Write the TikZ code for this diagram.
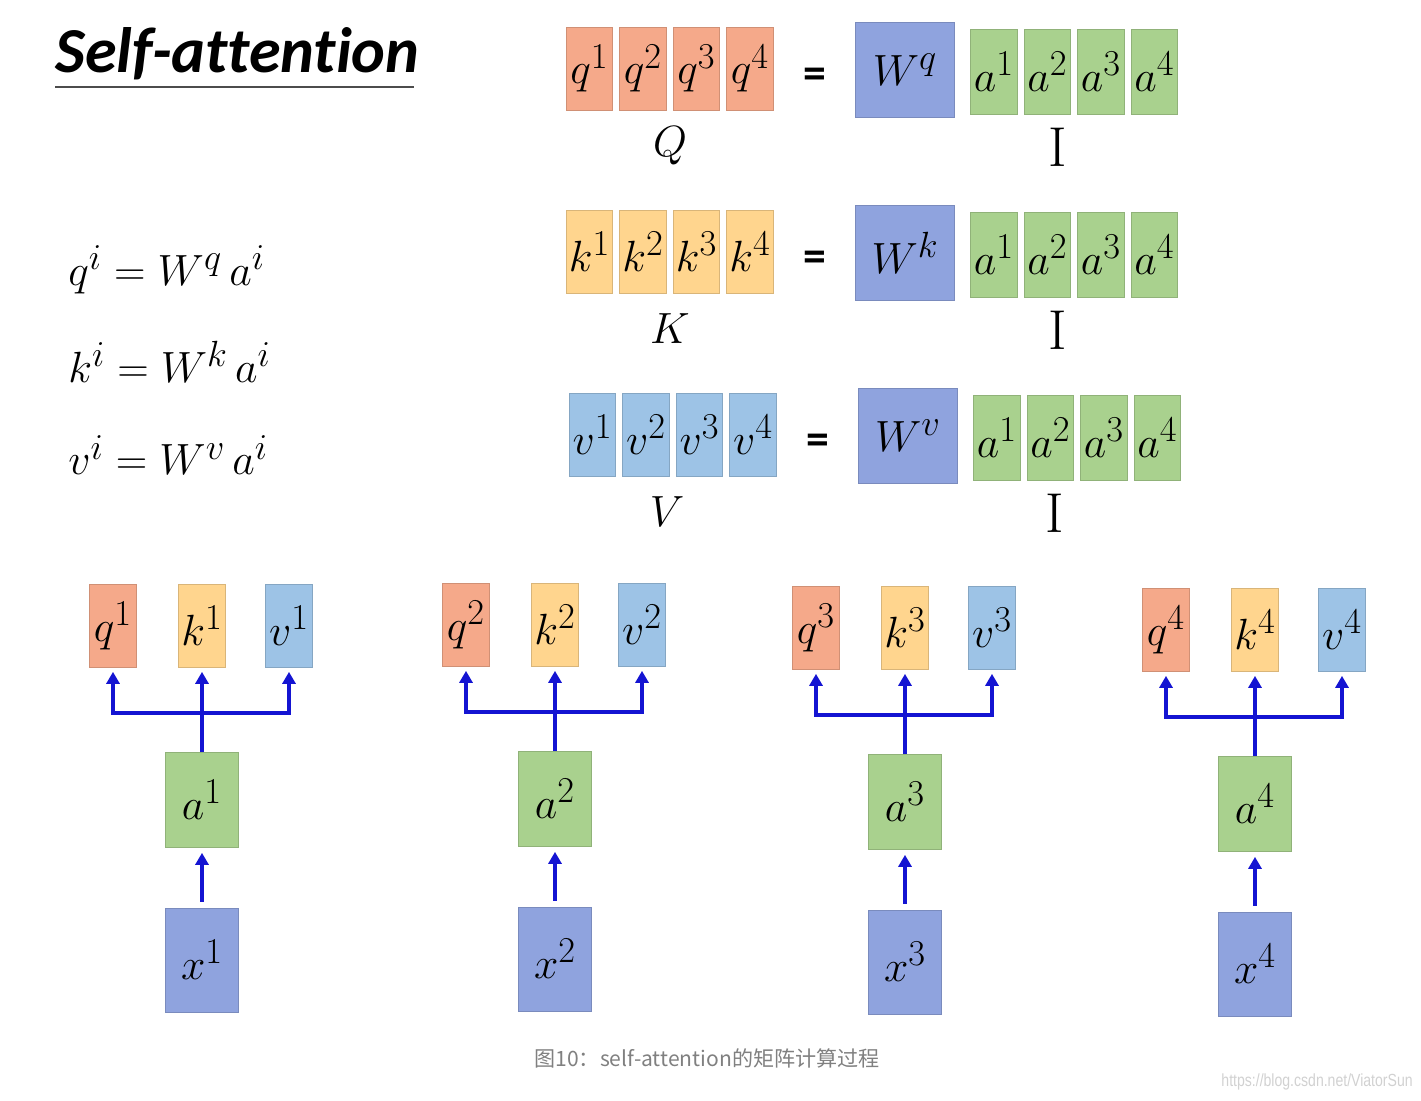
\documentclass[tikz,border=0pt]{standalone}
\usepackage{fontspec}
\newfontfamily\titlefont[Ligatures=NoCommon]{Carlito}
\newfontfamily\cjk{Noto Sans CJK SC}
\newfontfamily\markfont[FakeStretch=0.8]{Liberation Sans}
\usepackage{xcolor}
\definecolor{qRed}{HTML}{F5A98A}
\definecolor{kYellow}{HTML}{FFD58E}
\definecolor{vBlue}{HTML}{9DC3E6}
\definecolor{wBlue}{HTML}{8FA3DE}
\definecolor{aGreen}{HTML}{A9D18E}
\definecolor{flowBlue}{HTML}{1414D2}
\usetikzlibrary{arrows.meta}

\tikzset{
  cell/.style={fill=#1, draw=#1!85!black, line width=0.4pt, inner sep=0pt,
    font=\fontsize{30}{32}\selectfont},
  vec/.style={cell=#1, minimum width=0.93cm, minimum height=1.66cm},
  mat/.style={cell=wBlue, minimum width=1.98cm, minimum height=1.9cm},
  inp/.style={cell=#1, minimum width=1.46cm, minimum height=1.9cm},
  big/.style={font=\fontsize{32}{34}\selectfont, inner sep=0pt},
  eqs/.style={font=\fontsize{30}{32}\selectfont, anchor=west, inner sep=0pt},
  flow/.style={flowBlue, line width=2.3pt},
}

\begin{document}
\begin{tikzpicture}[x=0.02cm, y=-0.02cm, >={Triangle[length=0.24cm, width=0.26cm]}]
  \useasboundingbox (0,0) rectangle (1421,1100);
  % title
  \node[anchor=base west, inner sep=0pt,
    font=\titlefont\bfseries\itshape\fontsize{36.5}{40}\selectfont] (title) at (55,72) {Self-attention};
  \draw[black!70, line width=1.2pt] (55,87) -- (414,87);
  % per-element equations
  \node[eqs] (eqq) at (68,270) {$q^i = W^q\,a^i$};
  \node[eqs] (eqk) at (68,362) {$k^i = W^k\,a^i$};
  \node[eqs] (eqv) at (68,455) {$v^i = W^v\,a^i$};
  % matrix form: Q, K, V rows
  \foreach \m/\col/\M/\y/\dx in {q/qRed/Q/0/0, k/kYellow/K/183/0, v/vBlue/V/366/3}{
    \foreach \i in {1,...,4}
      \node[vec=\col] (\m\i) at ({536+53.5*\i+\dx},{68.5+\y}) {$\m^{\i}$};
    \node[big] (\M) at ({670-\dx},{146+\y}) {$\M$};
    \node[inner sep=0pt, font=\titlefont\bfseries\fontsize{26}{28}\selectfont] (eq\m)
      at ({815+\dx},{78+\y}) {=};
    \node[mat] (W\m) at ({905+\dx},{70+\y}) {$W^{\m}$};
    \foreach \i in {1,...,4}
      \node[vec=aGreen, minimum height=1.7cm] (a\m\i) at ({940.5+53.5*\i+\dx},{71.5+\y}) {$a^{\i}$};
    \node[big] (I\m) at ({1058-\dx},{147+\y}) {$\mathrm{I}$};
  }
  % one column per input
  \foreach \n/\cx/\dy in {1/202/0, 2/555/-1, 3/905/2, 4/1255/4}{
    \node[vec=qRed] (gq\n) at ({\cx-89},{626+\dy}) {$q^{\n}$};
    \node[vec=kYellow] (gk\n) at (\cx,{626+\dy}) {$k^{\n}$};
    \node[vec=vBlue] (gv\n) at ({\cx+87},{626+\dy}) {$v^{\n}$};
    \node[inp=aGreen] (ga\n) at (\cx,{800+\dy}) {$a^{\n}$};
    \node[inp=wBlue, minimum height=2.08cm] (gx\n) at (\cx,{960+\dy}) {$x^{\n}$};
    \coordinate (bar\n) at (\cx,{713+\dy});
    \draw[flow] (ga\n.north) -- (bar\n);
    \draw[flow, ->, shorten >=0.08cm] (bar\n) -| (gq\n.south);
    \draw[flow, ->, shorten >=0.08cm] (bar\n) -| (gv\n.south);
    \draw[flow, ->, shorten >=0.08cm] (bar\n) -- (gk\n.south);
    \draw[flow, ->, shorten <=0.12cm, shorten >=0.1cm] (gx\n.north) -- (ga\n.south);
  }
  % caption and mark
  \node[font=\cjk\fontsize{12}{14}\selectfont, text=black!50] (caption) at (707,1058)
    {图10：self-attention的矩阵计算过程};
  \node[anchor=east, inner sep=0pt, font=\markfont\fontsize{10}{12}\selectfont, text=black!18] (mark)
    at (1413,1082) {https://blog.csdn.net/ViatorSun};
\end{tikzpicture}
\end{document}
